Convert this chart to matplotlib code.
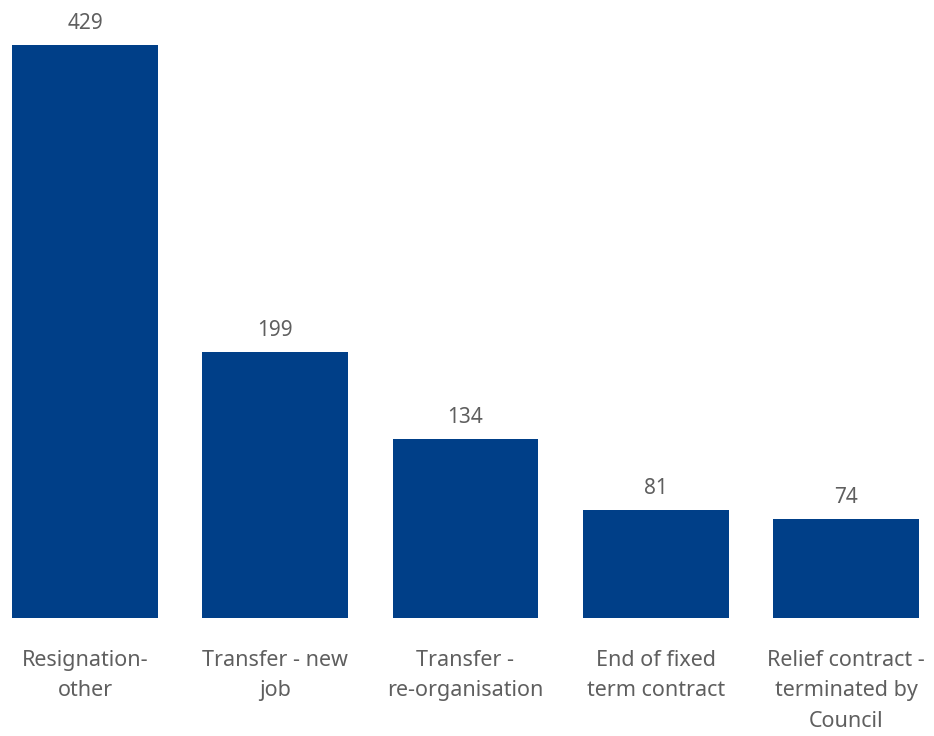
import matplotlib
matplotlib.use("Agg")
import matplotlib.pyplot as plt

plt.rcParams["font.family"] = ["Noto Sans", "DejaVu Sans"]

reasons = [
    "Resignation-\nother",
    "Transfer - new\njob",
    "Transfer -\nre-organisation",
    "End of fixed\nterm contract",
    "Relief contract -\nterminated by\nCouncil",
]
counts = [429, 199, 134, 81, 74]

BAR_COLOR = "#003f88"
TEXT_COLOR = "#5f5f5f"

fig = plt.figure(figsize=(9.34, 7.36), dpi=100)
ax = fig.add_axes([0, 0.1603, 1, 0.8397])

xs = list(range(len(reasons)))
bars = ax.bar(xs, counts, width=0.767, color=BAR_COLOR)

# px-based layout: first bar centred at 85px, 190.25px between bars
ax.set_xlim(-85 / 190.25, (934 - 85) / 190.25)
ax.set_ylim(0, 429 * 618 / 573)

for b, v in zip(bars, counts):
    ax.annotate(str(v), (b.get_x() + b.get_width() / 2, v),
                xytext=(0, 11), textcoords="offset pixels",
                ha="center", va="bottom", fontsize=15, color=TEXT_COLOR)

ax.set_xticks(xs)
ax.set_xticklabels(reasons, fontsize=15.5, color=TEXT_COLOR, linespacing=1.58)
ax.tick_params(axis="x", length=0, pad=23)
ax.set_yticks([])
for s in ax.spines.values():
    s.set_visible(False)

fig.savefig("out.png", dpi=100)
